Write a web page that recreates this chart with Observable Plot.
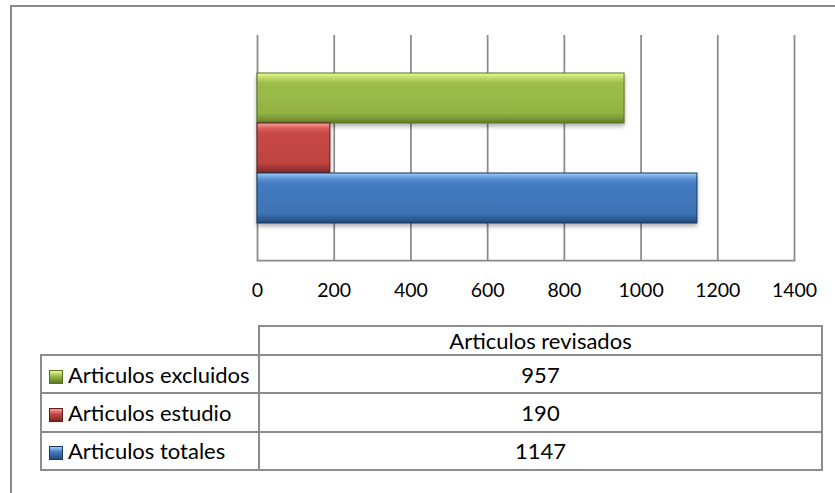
<!DOCTYPE html>
<html><head><meta charset="utf-8">
<script src="https://cdn.jsdelivr.net/npm/d3@7"></script>
<script src="https://cdn.jsdelivr.net/npm/@observablehq/plot@0.6"></script>
<style>
body{margin:0;background:#fff;font-family:Lato, sans-serif;}
#wrap{position:relative;width:835px;height:493px;overflow:hidden;background:#fff;}
#frame{position:absolute;left:10px;top:5px;width:900px;height:600px;border-left:2px solid #8a8a8a;border-top:2px solid #8a8a8a;}
#chart{position:absolute;left:0;top:0;}
#tbl{position:absolute;left:40px;top:325px;border-collapse:collapse;font-size:22px;color:#000;}
#tbl td{border:2px solid #8c8c8c;padding:0;white-space:nowrap;}
#tbl td.blank{border-top:none;border-left:none;}
#tbl td.val{text-align:center;}
.key{display:inline-block;width:14px;height:14px;margin:0 5px 0 7px;vertical-align:-1px;box-sizing:border-box;}
</style></head><body>
<div id="wrap"><div id="frame"></div><div id="chart"></div><table id="tbl"></table></div>
<script>
const seriesNames = ["Articulos excluidos", "Articulos estudio", "Articulos totales"];
const seriesValues = [957, 190, 1147];
const categoryLabel = "Articulos revisados";
const xTicks = [0, 200, 400, 600, 800, 1000, 1200, 1400];

const gradStops = [
  ["#e9ff94", "#bcd964", "#9dbd4b", "#92b243", "#7d9a36", "#5e7a27"],
  ["#f7a3a1", "#dc5f5c", "#c94a47", "#bd4340", "#9e3532", "#7a2725"],
  ["#a3ccf7", "#5f97d8", "#447cc2", "#3d74b6", "#315f97", "#234a78"]
];
const borders = ["#566f24", "#5e1d1b", "#17375e"];

const data = seriesNames.map((name, i) => ({name, value: seriesValues[i]}));

const svg = Plot.plot({
  width: 835,
  height: 310,
  marginLeft: 257,
  marginRight: 41,
  marginTop: 35,
  marginBottom: 50,
  style: {fontFamily: "Lato, sans-serif", fontSize: "19.5px", color: "#000", background: "transparent"},
  x: {domain: [0, 1400]},
  y: {domain: seriesNames, range: [72, 223], padding: 0, axis: null},
  marks: [
    Plot.gridX(xTicks, {stroke: "#8a8a8a", strokeOpacity: 1, strokeWidth: 1.75}),
    Plot.frame({anchor: "bottom", stroke: "#8a8a8a", strokeWidth: 1.75}),
    ...data.map((d, i) => Plot.barX([d], {
      x: "value", y: "name",
      fill: `url(#bargrad${i})`, stroke: borders[i], strokeWidth: 1
    })),
    Plot.axisX({ticks: xTicks, tickSize: 0, tickPadding: 23, fontSize: 19.5, label: null, tickFormat: d => String(d)})
  ]
});

const sel = d3.select(svg);
const defs = sel.insert("defs", ":first-child");
gradStops.forEach((stops, i) => {
  const g = defs.append("linearGradient").attr("id", `bargrad${i}`)
    .attr("x1", 0).attr("y1", 0).attr("x2", 0).attr("y2", 1);
  const offs = [0, 0.1, 0.2, 0.8, 0.9, 1];
  stops.forEach((c, k) => g.append("stop").attr("offset", offs[k]).attr("stop-color", c));
});
const f = defs.append("filter").attr("id", "barshadow").attr("x", "-5%").attr("y", "-20%").attr("width", "110%").attr("height", "160%");
f.append("feDropShadow").attr("dx", 0).attr("dy", 3).attr("stdDeviation", 2).attr("flood-color", "#000").attr("flood-opacity", 0.3);
sel.selectAll("g[aria-label='bar']").attr("filter", "url(#barshadow)");

document.getElementById("chart").appendChild(svg);

// data table
const tbl = d3.select("#tbl");
const head = tbl.append("tr").style("height", "29px");
head.append("td").attr("class", "blank").style("width", "217px");
head.append("td").attr("class", "val").style("width", "561px").text(categoryLabel);
data.forEach((d, i) => {
  const tr = tbl.append("tr").style("height", "38.3px");
  const td = tr.append("td");
  td.append("span").attr("class", "key")
    .style("background", `linear-gradient(${gradStops[i][0]}, ${gradStops[i][2]} 40%, ${gradStops[i][5]})`)
    .style("border", `1px solid ${borders[i]}`);
  td.append("span").text(d.name);
  tr.append("td").attr("class", "val").text(d.value);
});
</script>
</body></html>
